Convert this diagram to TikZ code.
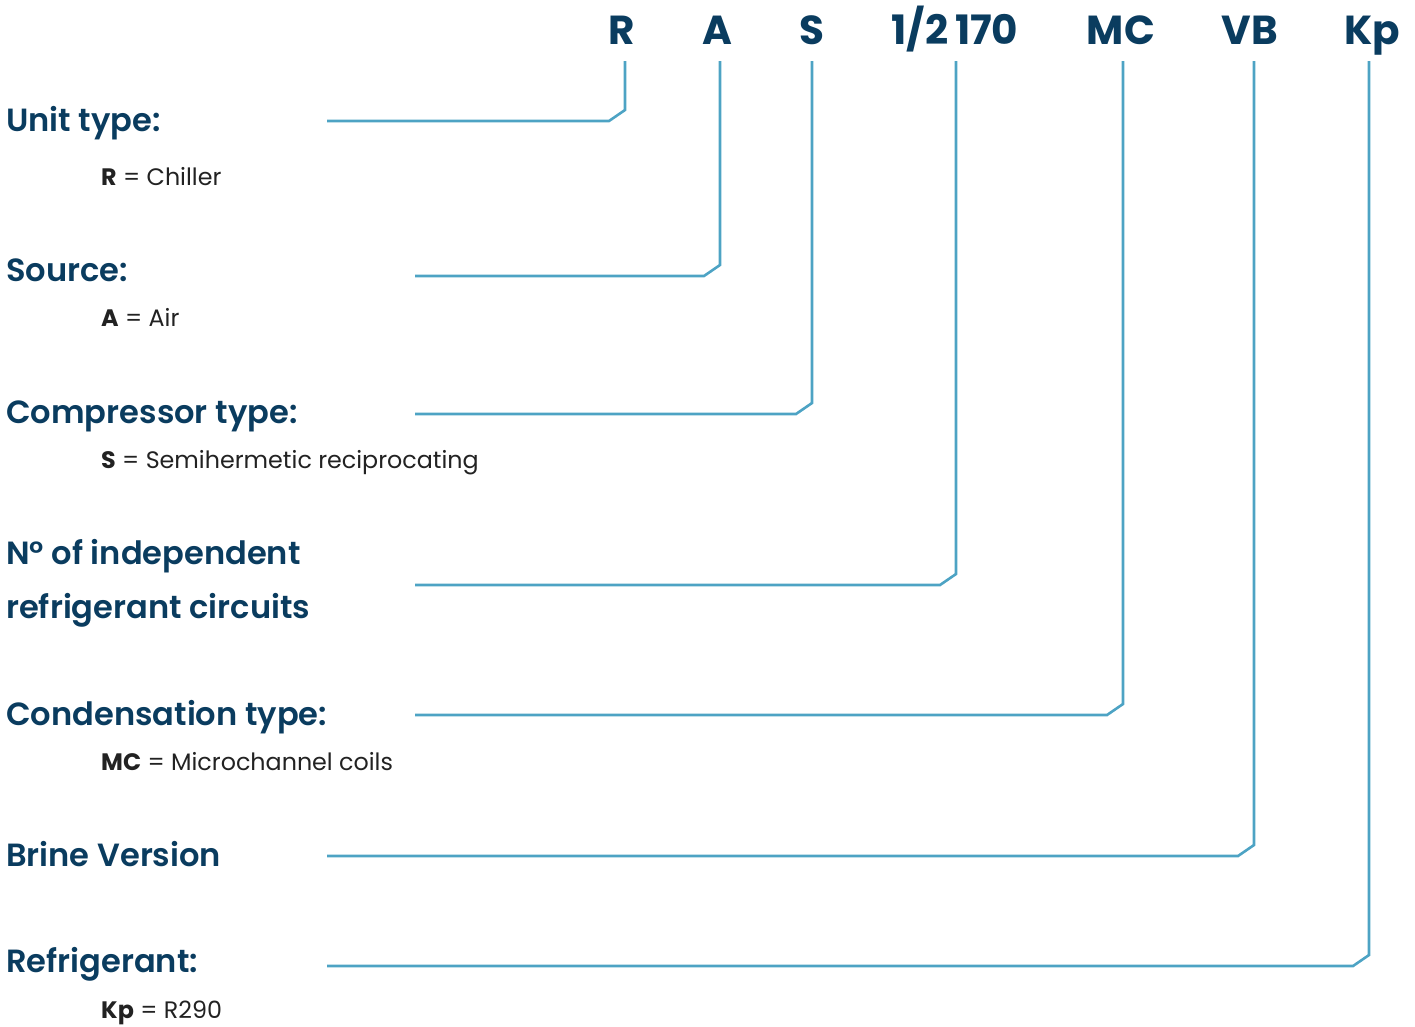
\documentclass[tikz,border=0pt]{standalone}
\usepackage{fontspec}
\setmainfont{Poppins}
\newfontfamily\popsemi{Poppins SemiBold}
\definecolor{navy}{HTML}{0A3C5F}
\definecolor{lineblue}{HTML}{4DA3C4}
\definecolor{txtgray}{HTML}{222222}
\tikzset{
  code/.style={inner sep=0pt, anchor=base, text=navy, font=\fontsize{40.5}{40}\selectfont\bfseries},
  head/.style={inner sep=0pt, anchor=base west, text=navy, font=\fontsize{32.1}{31}\popsemi},
  sub/.style={inner sep=0pt, anchor=base west, text=txtgray, font=\fontsize{23.8}{22}\selectfont},
  conn/.style={draw=lineblue, line width=2.6pt}
}
\begin{document}
\begin{tikzpicture}[x=1pt,y=-1pt]
\useasboundingbox (0,0) rectangle (1415,1026);
% code letters
\node[code] (cR) at (622,44) {R};
\node[code] (cA) at (717,44) {A};
\node[code] (cS) at (812,44) {S};
\node[code] (cN) at (955,44) {1/2\,170};
\node[code] (cMC) at (1121,44) {MC};
\node[code] (cVB) at (1250,44) {VB};
\node[code] (cKp) at (1372,44) {Kp};
% headings
\node[head] (hU) at (6,131) {Unit type:};
\node[sub] (sU) at (101,185) {\textbf{R} = Chiller};
\node[head] (hS) at (6,281) {Source:};
\node[sub] (sS) at (101,326) {\textbf{A} = Air};
\node[head] (hC) at (6,423) {Compressor type:};
\node[sub] (sC) at (101,468) {\textbf{S} = Semihermetic reciprocating};
\node[head] (hN1) at (6,564) {N° of independent};
\node[head] (hN2) at (6,618) {refrigerant circuits};
\node[head] (hM) at (6,725) {Condensation type:};
\node[sub] (sM) at (101,770) {\textbf{MC} = Microchannel coils};
\node[head] (hB) at (6,866) {Brine Version};
\node[head] (hK) at (6,972) {Refrigerant:};
\node[sub] (sK) at (101,1018) {\textbf{Kp} = R290};
% connector endpoints
\coordinate (tR) at (625,61);
\coordinate (tA) at (720,61);
\coordinate (tS) at (812,61);
\coordinate (tN) at (956,61);
\coordinate (tMC) at (1123,61);
\coordinate (tVB) at (1254,61);
\coordinate (tKp) at (1369,61);
\coordinate (eU) at (327,121);
\coordinate (eS) at (415,276);
\coordinate (eC) at (415,414);
\coordinate (eN) at (415,585);
\coordinate (eM) at (415,715);
\coordinate (eB) at (327,856);
\coordinate (eK) at (327,966);
% connectors
\draw[conn] (tR) -- ([yshift=11pt]tR |- eU) -- ([xshift=-16pt]tR |- eU) -- (eU);
\draw[conn] (tA) -- ([yshift=11pt]tA |- eS) -- ([xshift=-16pt]tA |- eS) -- (eS);
\draw[conn] (tS) -- ([yshift=11pt]tS |- eC) -- ([xshift=-16pt]tS |- eC) -- (eC);
\draw[conn] (tN) -- ([yshift=11pt]tN |- eN) -- ([xshift=-16pt]tN |- eN) -- (eN);
\draw[conn] (tMC) -- ([yshift=11pt]tMC |- eM) -- ([xshift=-16pt]tMC |- eM) -- (eM);
\draw[conn] (tVB) -- ([yshift=11pt]tVB |- eB) -- ([xshift=-16pt]tVB |- eB) -- (eB);
\draw[conn] (tKp) -- ([yshift=11pt]tKp |- eK) -- ([xshift=-16pt]tKp |- eK) -- (eK);
\end{tikzpicture}
\end{document}
